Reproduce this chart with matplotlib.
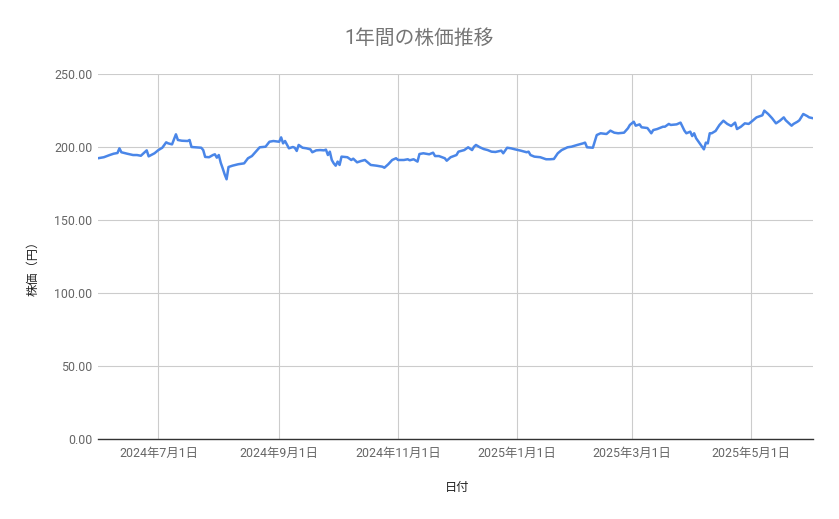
import matplotlib
matplotlib.use("Agg")
import matplotlib.pyplot as plt
from matplotlib.ticker import FuncFormatter
import pandas as pd

plt.rcParams['font.family'] = ['Roboto', 'Noto Sans CJK JP', 'DejaVu Sans']

title = "1年間の株価推移"
x_label = "日付"
y_label = "株価（円）"

dates = [
    "2024-05-31", "2024-06-03", "2024-06-06", "2024-06-08", "2024-06-10", "2024-06-11",
    "2024-06-12", "2024-06-15", "2024-06-18", "2024-06-20", "2024-06-22", "2024-06-24",
    "2024-06-25", "2024-06-26", "2024-06-29",
    "2024-07-01", "2024-07-03", "2024-07-05", "2024-07-06", "2024-07-08", "2024-07-10",
    "2024-07-11", "2024-07-13", "2024-07-16", "2024-07-17", "2024-07-18", "2024-07-20",
    "2024-07-23", "2024-07-24", "2024-07-25", "2024-07-27", "2024-07-29", "2024-07-30",
    "2024-07-31",
    "2024-08-01", "2024-08-02", "2024-08-03", "2024-08-04", "2024-08-05", "2024-08-06",
    "2024-08-08", "2024-08-11", "2024-08-14", "2024-08-16", "2024-08-18", "2024-08-20",
    "2024-08-22", "2024-08-25", "2024-08-27", "2024-08-29",
    "2024-09-01", "2024-09-02", "2024-09-03", "2024-09-04", "2024-09-06", "2024-09-08",
    "2024-09-09", "2024-09-10", "2024-09-11", "2024-09-13", "2024-09-15", "2024-09-17",
    "2024-09-18", "2024-09-20", "2024-09-22", "2024-09-24", "2024-09-25", "2024-09-26",
    "2024-09-27", "2024-09-28", "2024-09-29", "2024-09-30",
    "2024-10-01", "2024-10-02", "2024-10-03", "2024-10-06", "2024-10-08", "2024-10-09",
    "2024-10-11", "2024-10-13", "2024-10-15", "2024-10-18", "2024-10-21", "2024-10-24",
    "2024-10-25", "2024-10-27", "2024-10-29", "2024-10-31",
    "2024-11-01", "2024-11-04", "2024-11-06", "2024-11-07", "2024-11-09", "2024-11-11",
    "2024-11-12", "2024-11-14", "2024-11-17", "2024-11-19", "2024-11-20", "2024-11-22",
    "2024-11-25", "2024-11-26", "2024-11-28",
    "2024-12-01", "2024-12-02", "2024-12-05", "2024-12-07", "2024-12-09", "2024-12-10",
    "2024-12-11", "2024-12-13", "2024-12-15", "2024-12-17", "2024-12-19", "2024-12-21",
    "2024-12-24", "2024-12-25", "2024-12-27", "2024-12-29", "2024-12-31",
    "2025-01-03", "2025-01-06", "2025-01-07", "2025-01-08", "2025-01-10", "2025-01-13",
    "2025-01-16", "2025-01-18", "2025-01-20", "2025-01-22", "2025-01-24", "2025-01-27",
    "2025-01-29",
    "2025-02-01", "2025-02-04", "2025-02-05", "2025-02-06", "2025-02-09", "2025-02-11",
    "2025-02-13", "2025-02-16", "2025-02-18", "2025-02-20", "2025-02-22", "2025-02-25",
    "2025-02-27", "2025-02-28",
    "2025-03-02", "2025-03-03", "2025-03-05", "2025-03-06", "2025-03-09", "2025-03-11",
    "2025-03-12", "2025-03-14", "2025-03-17", "2025-03-18", "2025-03-20", "2025-03-21",
    "2025-03-24", "2025-03-26", "2025-03-28", "2025-03-29", "2025-03-31",
    "2025-04-01", "2025-04-02", "2025-04-03", "2025-04-04", "2025-04-07", "2025-04-08",
    "2025-04-09", "2025-04-10", "2025-04-11", "2025-04-13", "2025-04-15", "2025-04-17",
    "2025-04-19", "2025-04-21", "2025-04-23", "2025-04-24", "2025-04-26", "2025-04-28",
    "2025-04-30",
    "2025-05-02", "2025-05-04", "2025-05-07", "2025-05-08", "2025-05-10", "2025-05-12",
    "2025-05-14", "2025-05-16", "2025-05-18", "2025-05-19", "2025-05-22", "2025-05-23",
    "2025-05-25", "2025-05-26", "2025-05-28", "2025-05-30", "2025-05-31", "2025-06-02",
]

prices = [
    192.3, 193.0, 194.5, 195.4, 195.9, 199.1,
    196.4, 195.4, 194.5, 194.5, 194.0, 196.4,
    197.7, 193.6, 195.7,
    197.9, 199.5, 203.2, 202.5, 201.8, 208.7,
    204.8, 204.3, 204.1, 204.8, 200.0, 199.8,
    199.5, 197.9, 193.2, 193.0, 194.5, 195.0,
    192.7,
    194.5, 189.2, 185.4, 181.3, 177.9, 186.3,
    187.2, 188.2, 188.8, 192.3, 193.8, 196.8,
    199.8, 200.2, 203.6, 204.1,
    203.6, 206.6, 202.5, 204.1, 199.1, 200.0,
    199.5, 197.3, 201.4, 199.5, 199.1, 198.4,
    196.4, 197.7, 197.9, 197.7, 198.2, 194.5,
    196.8, 191.1, 188.8, 187.2,
    190.0, 187.7, 193.4, 193.0, 191.1, 192.0,
    189.5, 190.4, 191.1, 187.7, 187.2, 186.5,
    185.8, 188.2, 191.1, 192.3,
    191.1, 191.1, 191.6, 190.9, 191.6, 190.0,
    195.2, 195.7, 195.0, 196.1, 193.8, 193.8,
    192.3, 190.6, 193.0,
    194.5, 196.8, 197.9, 199.8, 197.9, 200.2,
    201.4, 199.8, 198.6, 197.9, 196.8, 196.6,
    197.5, 195.7, 199.5, 199.1, 198.4,
    197.5, 196.4, 196.8, 194.5, 193.4, 193.0,
    191.6, 191.6, 191.8, 195.7, 197.9, 199.8,
    200.2,
    201.4, 202.5, 203.0, 199.8, 199.5, 208.2,
    209.4, 208.9, 211.2, 209.8, 209.4, 209.8,
    212.8, 215.1,
    217.3, 214.6, 215.5, 213.5, 213.0, 209.4,
    211.6, 212.3, 213.9, 213.9, 215.8, 215.1,
    215.5, 216.7, 211.2, 209.4, 210.5,
    207.5, 209.4, 206.0, 204.1, 198.4, 203.0,
    202.5, 209.4, 209.4, 211.0, 215.1, 218.0,
    215.8, 214.4, 216.7, 212.3, 213.9, 216.2,
    215.8,
    218.0, 220.3, 221.7, 224.9, 222.6, 219.7,
    216.2, 218.0, 220.3, 218.3, 214.6, 215.8,
    217.3, 218.3, 222.6, 221.2, 220.3, 219.7,
]

y_ticks = [0, 50, 100, 150, 200, 250]
x_tick_dates = ["2024-07-01", "2024-09-01", "2024-11-01", "2025-01-01", "2025-03-01", "2025-05-01"]
x_tick_labels = ["2024年7月1日", "2024年9月1日", "2024年11月1日", "2025年1月1日", "2025年3月1日", "2025年5月1日"]

df = pd.DataFrame({"date": pd.to_datetime(dates), "price": prices})

fig = plt.figure(figsize=(8.39, 5.19), dpi=100)
ax = fig.add_axes([98 / 839, 1 - 439 / 519, (813 - 98) / 839, (439 - 74) / 519])

ax.plot(df["date"], df["price"], color="#4a86e8", linewidth=1.8, solid_joinstyle="round")

ax.set_xlim(df["date"].iloc[0], df["date"].iloc[-1])
ax.set_ylim(y_ticks[0], y_ticks[-1])
ax.set_yticks(y_ticks)
ax.yaxis.set_major_formatter(FuncFormatter(lambda v, p: f"{v:.2f}"))
ax.set_xticks(pd.to_datetime(x_tick_dates))
ax.set_xticklabels(x_tick_labels)

ax.grid(True, color="#cccccc", linewidth=0.8)
ax.set_axisbelow(True)
for s in ["top", "right", "left"]:
    ax.spines[s].set_visible(False)
ax.spines["bottom"].set_color("#333333")
ax.spines["bottom"].set_linewidth(1.0)
ax.spines["bottom"].set_zorder(5)

ax.tick_params(axis="both", length=0, labelsize=8.9, labelcolor="#666666")
ax.tick_params(axis="y", pad=4)
ax.tick_params(axis="x", pad=6)

fig.text(0.5, 1 - 38 / 519, title, ha="center", va="center", fontsize=14.2, color="#757575")
fig.text(457 / 839, 1 - 487 / 519, x_label, ha="center", va="center", fontsize=8.8, color="#222222")
fig.text(33 / 839, 1 - 265 / 519, y_label, ha="center", va="center", rotation=90,
         fontsize=8.8, color="#222222")

fig.savefig("out.png", dpi=100)
